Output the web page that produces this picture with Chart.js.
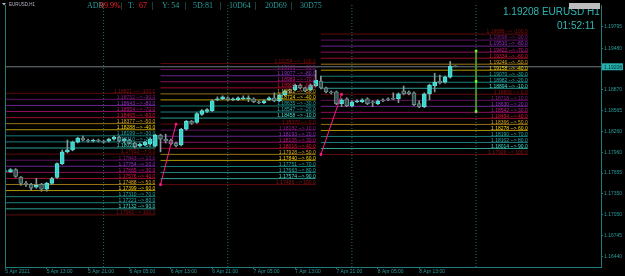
<!DOCTYPE html>
<html>
<head>
<meta charset="utf-8">
<script src="https://cdn.jsdelivr.net/npm/chart.js@4.4.1/dist/chart.umd.min.js"></script>
<style>
  html, body { margin: 0; padding: 0; background: #000; }
  canvas { display: block; }
</style>
</head>
<body>
<canvas id="chart" width="625" height="276"></canvas>
<script>
// EURUSD H1 bars, index 0 = 5 Apr 2021 05:00
const opens = [1.17691, 1.17677, 1.17706, 1.17591, 1.17505, 1.17490, 1.17447, 1.17490, 1.17418, 1.17505,
  1.17591, 1.17792, 1.17965, 1.17993, 1.18108, 1.18166, 1.18137, 1.18123, 1.18137, 1.18123,
  1.18123, 1.18151, 1.18180, 1.18123, 1.18137, 1.18094, 1.18051, 1.18065, 1.18079, 1.18051,
  1.18209, 1.18151, 1.18137, 1.18094, 1.18065, 1.18295, 1.18410, 1.18396, 1.18511, 1.18554,
  1.18568, 1.18726, 1.18741, 1.18755, 1.18726, 1.18726, 1.18741, 1.18741, 1.18741, 1.18697,
  1.18683, 1.18726, 1.18755, 1.18712, 1.18798, 1.18870, 1.18870, 1.18942, 1.18899, 1.18870,
  1.18927, 1.18999, 1.18899, 1.18841, 1.18841, 1.18669, 1.18741, 1.18640, 1.18697, 1.18697,
  1.18741, 1.18697, 1.18669, 1.18726, 1.18741, 1.18741, 1.18741, 1.18855, 1.18841, 1.18827,
  1.18669, 1.18625, 1.18812, 1.18927, 1.18999, 1.18985, 1.19057, 1.19215];
const highs = [1.17706, 1.17720, 1.17720, 1.17605, 1.17533, 1.17505, 1.17576, 1.17505, 1.17519, 1.17591,
  1.17806, 1.17993, 1.18137, 1.18123, 1.18180, 1.18194, 1.18151, 1.18151, 1.18151, 1.18137,
  1.18166, 1.18194, 1.18194, 1.18166, 1.18151, 1.18108, 1.18094, 1.18123, 1.18166, 1.18223,
  1.18223, 1.18223, 1.18151, 1.18108, 1.18309, 1.18424, 1.18424, 1.18539, 1.18582, 1.18597,
  1.18726, 1.18769, 1.18784, 1.18769, 1.18755, 1.18769, 1.18784, 1.18784, 1.18755, 1.18712,
  1.18726, 1.18769, 1.18827, 1.18812, 1.18870, 1.18884, 1.18956, 1.18956, 1.18913, 1.18956,
  1.19157, 1.19071, 1.18913, 1.18855, 1.18855, 1.18741, 1.18755, 1.18712, 1.18726, 1.18741,
  1.18755, 1.18712, 1.18726, 1.18741, 1.18755, 1.18827, 1.18827, 1.18927, 1.18855, 1.18841,
  1.18712, 1.18827, 1.18956, 1.19114, 1.19085, 1.19071, 1.19287, 1.19222];
const lows = [1.17663, 1.17663, 1.17591, 1.17476, 1.17461, 1.17404, 1.17433, 1.17390, 1.17390, 1.17490,
  1.17576, 1.17778, 1.17950, 1.17979, 1.18094, 1.18123, 1.18108, 1.18108, 1.18108, 1.18094,
  1.18108, 1.18137, 1.18108, 1.18094, 1.18079, 1.18022, 1.18036, 1.18051, 1.18065, 1.18036,
  1.17965, 1.18094, 1.18065, 1.18036, 1.18051, 1.18281, 1.18367, 1.18381, 1.18496, 1.18539,
  1.18554, 1.18712, 1.18726, 1.18712, 1.18712, 1.18712, 1.18726, 1.18697, 1.18683, 1.18669,
  1.18669, 1.18712, 1.18697, 1.18697, 1.18784, 1.18827, 1.18855, 1.18884, 1.18841, 1.18855,
  1.18913, 1.18884, 1.18827, 1.18812, 1.18654, 1.18625, 1.18625, 1.18625, 1.18683, 1.18683,
  1.18654, 1.18625, 1.18654, 1.18697, 1.18712, 1.18726, 1.18683, 1.18798, 1.18798, 1.18640,
  1.18611, 1.18611, 1.18726, 1.18841, 1.18956, 1.18970, 1.19042, 1.19208];
const closes = [1.17677, 1.17706, 1.17605, 1.17505, 1.17490, 1.17433, 1.17476, 1.17418, 1.17505, 1.17576,
  1.17792, 1.17965, 1.17993, 1.18108, 1.18166, 1.18137, 1.18123, 1.18137, 1.18123, 1.18108,
  1.18151, 1.18180, 1.18123, 1.18151, 1.18094, 1.18036, 1.18079, 1.18108, 1.18151, 1.18209,
  1.18151, 1.18123, 1.18079, 1.18051, 1.18295, 1.18410, 1.18381, 1.18525, 1.18568, 1.18582,
  1.18712, 1.18741, 1.18769, 1.18726, 1.18741, 1.18755, 1.18755, 1.18741, 1.18697, 1.18683,
  1.18712, 1.18755, 1.18712, 1.18798, 1.18855, 1.18855, 1.18942, 1.18899, 1.18855, 1.18942,
  1.19014, 1.18899, 1.18841, 1.18827, 1.18669, 1.18726, 1.18640, 1.18697, 1.18712, 1.18726,
  1.18669, 1.18683, 1.18712, 1.18712, 1.18726, 1.18734, 1.18812, 1.18812, 1.18812, 1.18654,
  1.18625, 1.18812, 1.18942, 1.18985, 1.18970, 1.19057, 1.19215, 1.19208];

const xTickIdx = [0, 8, 16, 24, 32, 40, 48, 56, 64, 72, 80];
const xTickLabels = ["5 Apr 2021", "5 Apr 13:00", "5 Apr 21:00", "6 Apr 05:00", "6 Apr 13:00",
  "6 Apr 21:00", "7 Apr 05:00", "7 Apr 13:00", "7 Apr 21:00", "8 Apr 05:00", "8 Apr 13:00"];
const yTickVals = [1.19795, 1.19480, 1.18870, 1.18565, 1.18260, 1.17960, 1.17655, 1.17350, 1.17050, 1.16745, 1.16440];
const daySeparators = [19, 43, 67, 91];
const bidPrice = 1.19208;

const levelSteps = [-100, -90, -80, -70, -60, -50, -40, -30, -20, -10, 0, 10, 20, 30, 40, 50, 60, 70, 80, 90, 100];
const levelsA = [1.18821, 1.18732, 1.18643, 1.18554, 1.18465, 1.18377, 1.18288, 1.18199, 1.18110, 1.18021, 1.17932,
  1.17843, 1.17754, 1.17665, 1.17576, 1.17488, 1.17399, 1.17310, 1.17221, 1.17132, 1.17043];
const levelsB = [1.19254, 1.19166, 1.19077, 1.18989, 1.18900, 1.18812, 1.18724, 1.18635, 1.18547, 1.18458, 1.18370,
  1.18282, 1.18193, 1.18105, 1.18016, 1.17928, 1.17840, 1.17751, 1.17663, 1.17574, 1.17486];
const levelsC = [1.19686, 1.19598, 1.19510, 1.19422, 1.19334, 1.19246, 1.19158, 1.19070, 1.18982, 1.18894, 1.18806,
  1.18718, 1.18630, 1.18542, 1.18454, 1.18366, 1.18278, 1.18190, 1.18102, 1.18014, 1.17926];

const pinkX1 = [30, 33], pinkY1 = [1.17486, 1.18370];
const pinkX2 = [61, 65], pinkY2 = [1.17926, 1.18806];
const greenX = [91, 91, 91], greenY = [1.19440, 1.18995, 1.18555];

const xMin = -0.06, xMax = 115.15;
const yMin = 1.16282, yMax = 1.20111;

const levelColors = ["#8b1010", "#8a1a8a", "#9932cc", "#c71585", "#dc143c", "#daa520", "#ffd700", "#20b2aa", "#2ab3b3", "#40e0d0",
  "#8b1010", "#8a1a8a", "#9932cc", "#c71585", "#dc143c", "#daa520", "#ffd700", "#20b2aa", "#2ab3b3", "#40e0d0", "#8b1010"];
const teal = "#2a9a9a";

function dim(hex, a) {
  const n = parseInt(hex.slice(1), 16);
  return `rgba(${n >> 16},${(n >> 8) & 255},${n & 255},${a})`;
}

const groups = [
  { prices: levelsA, from: xMin - 1, to: 29 },
  { prices: levelsB, from: 30, to: 60 },
  { prices: levelsC, from: 61, to: 101 },
];

const bull = closes.map((c, i) => c >= opens[i]);

const datasets = [
  {
    type: "bar",
    data: opens.map((o, i) => ({ x: i, y: [Math.min(o, closes[i]), Math.max(o, closes[i])] })),
    backgroundColor: bull.map((b) => (b ? "#3cd3cb" : "#33504f")),
    borderColor: bull.map((b) => (b ? "#55e4dc" : "#6e8a8a")),
    borderWidth: 1,
    borderSkipped: false,
    barThickness: 4,
    minBarLength: 1,
    grouped: false,
    order: 1,
  },
  {
    type: "bar",
    data: highs.map((h, i) => ({ x: i, y: [lows[i], h] })),
    backgroundColor: "#869898",
    barThickness: 1,
    grouped: false,
    order: 2,
  },
  {
    type: "line",
    data: [{ x: xMin, y: bidPrice }, { x: xMax, y: bidPrice }],
    borderColor: "#6f7d84",
    borderWidth: 1,
    pointRadius: 0,
    order: 4,
  },
];

groups.forEach((g) => {
  g.prices.forEach((p, k) => {
    datasets.push({
      type: "line",
      data: [{ x: g.from, y: p }, { x: g.to, y: p }],
      borderColor: dim(levelColors[k], 0.7),
      borderWidth: 1,
      pointRadius: 0,
      order: 5,
    });
  });
});

daySeparators.forEach((s) => {
  datasets.push({
    type: "line",
    data: [{ x: s, y: yMax }, { x: s, y: yMin }],
    borderColor: "#1f6e6e",
    borderWidth: 1,
    borderDash: [1, 2],
    pointRadius: 0,
    order: 6,
  });
});

datasets.push(
  {
    type: "line",
    data: pinkX1.map((x, i) => ({ x, y: pinkY1[i] })),
    borderColor: "#ff1a8c",
    backgroundColor: "#ff1a8c",
    borderWidth: 1,
    pointStyle: "rect",
    pointRadius: 1.2,
    order: 0,
  },
  {
    type: "line",
    data: pinkX2.map((x, i) => ({ x, y: pinkY2[i] })),
    borderColor: "#ff1a8c",
    backgroundColor: "#ff1a8c",
    borderWidth: 1,
    pointStyle: "rect",
    pointRadius: 1.2,
    order: 0,
  },
  {
    type: "line",
    data: greenX.map((x, i) => ({ x, y: greenY[i] })),
    borderColor: "#4e9a2c",
    backgroundColor: "#6cff2a",
    pointBorderColor: "#6cff2a",
    borderWidth: 1,
    pointStyle: "rect",
    pointRadius: 1.2,
    order: 0,
  }
);

const header = [
  ["ADR", 87, teal], ["99.9%", 100, "#ff2020"], ["|", 121, teal], ["T:", 128, teal], ["67", 139, "#ff2020"],
  ["|", 152, teal], ["Y: 54", 162, teal], ["|", 185, teal], ["5D:81", 193, teal], ["|", 220, teal],
  ["10D64", 229, teal], ["|", 255, teal], ["20D69", 265, teal], ["|", 291, teal], ["30D75", 300, teal],
];

const overlay = {
  id: "overlay",
  afterDatasetsDraw(chart) {
    const { ctx, scales: { x, y } } = chart;
    ctx.save();
    ctx.font = '5px "Liberation Sans"';
    ctx.textAlign = "right";
    ctx.textBaseline = "bottom";
    groups.forEach((g) => {
      g.prices.forEach((p, k) => {
        ctx.fillStyle = levelColors[k];
        ctx.fillText(p.toFixed(5) + " --> " + levelSteps[k].toFixed(1),
          x.getPixelForValue(g.to), y.getPixelForValue(p) + 0.5);
      });
    });
    ctx.restore();
  },
  afterDraw(chart) {
    const { ctx, chartArea: a, scales: { y } } = chart;
    ctx.save();
    // left frame line
    ctx.strokeStyle = "#1f7c7c";
    ctx.lineWidth = 1;
    ctx.beginPath();
    ctx.moveTo(a.left + 0.5, a.top);
    ctx.lineTo(a.left + 0.5, a.bottom);
    ctx.stroke();

    // symbol caption
    ctx.fillStyle = "#b4b4c4";
    ctx.beginPath();
    ctx.moveTo(2, 3); ctx.lineTo(6, 3); ctx.lineTo(4, 5.5); ctx.closePath();
    ctx.fill();
    ctx.font = '4.5px "Liberation Sans"';
    ctx.textBaseline = "middle";
    ctx.textAlign = "left";
    ctx.fillText("EURUSD,H1", 9, 4.5);

    // ADR header
    ctx.font = '8px "Liberation Serif"';
    header.forEach(([t, px, c]) => {
      ctx.fillStyle = c;
      ctx.fillText(t, px, 6);
    });

    // top-right info
    ctx.fillStyle = "#2fb5b5";
    ctx.font = '10px "Liberation Sans"';
    ctx.fillText("1.19208 EURUSD H1", 503, 12.5);
    ctx.fillText("01:52:11", 557, 26);
    ctx.fillStyle = "#bdbdbd";
    ctx.fillRect(569, 3, 31, 6);

    // current price box
    const py = y.getPixelForValue(bidPrice);
    ctx.fillStyle = "#25b0ad";
    ctx.fillRect(a.right + 1, py - 3.5, 21, 7);
    ctx.fillStyle = "#04302f";
    ctx.font = '5px "Liberation Sans"';
    ctx.fillText(bidPrice.toFixed(5), a.right + 3, py + 0.5);
    ctx.restore();
  },
};

new Chart(document.getElementById("chart"), {
  type: "bar",
  data: { datasets },
  plugins: [overlay],
  options: {
    responsive: false,
    animation: false,
    devicePixelRatio: 1,
    layout: { padding: { left: 1, top: 0, right: 0, bottom: 0 } },
    elements: { line: { tension: 0 } },
    plugins: { legend: { display: false }, tooltip: { enabled: false } },
    scales: {
      x: {
        type: "linear",
        min: xMin,
        max: xMax,
        offset: false,
        afterFit(s) { s.height = 9; },
        afterBuildTicks(s) { s.ticks = xTickIdx.map((v) => ({ value: v })); },
        grid: { drawOnChartArea: false, offset: false, color: "#1f7c7c", tickLength: 2 },
        border: { color: "#1f7c7c" },
        ticks: {
          autoSkip: false,
          maxRotation: 0,
          minRotation: 0,
          align: "start",
          padding: 0,
          color: teal,
          font: { family: "Liberation Sans", size: 5 },
          callback: (v, i) => xTickLabels[i],
        },
      },
      y: {
        position: "right",
        min: yMin,
        max: yMax,
        afterFit(s) { s.width = 24; },
        afterBuildTicks(s) { s.ticks = yTickVals.map((v) => ({ value: v })); },
        grid: { drawOnChartArea: false, color: "#1f7c7c", tickLength: 2 },
        border: { color: "#1f7c7c" },
        ticks: {
          autoSkip: false,
          padding: 1,
          color: teal,
          font: { family: "Liberation Sans", size: 5 },
          callback: (v) => Number(v).toFixed(5),
        },
      },
    },
  },
});
</script>
</body>
</html>
